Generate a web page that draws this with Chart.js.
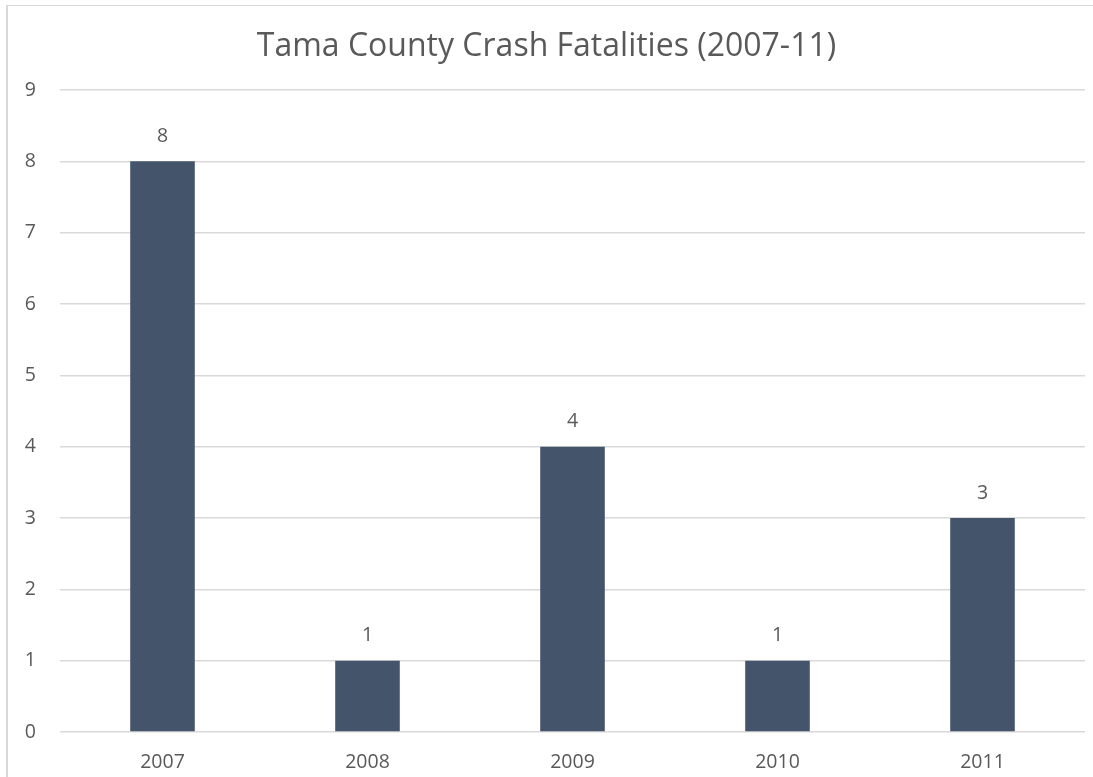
<!DOCTYPE html>
<html>
<head>
<meta charset="utf-8">
<script src="https://cdn.jsdelivr.net/npm/chart.js@4/dist/chart.umd.min.js"></script>
<style>
  html, body { margin: 0; padding: 0; background: #fff; overflow: hidden; }
  #box {
    position: absolute; left: 6px; top: 5px;
    width: 1200px; height: 900px;
    border-left: 2px solid #d9d9d9; border-top: 1px solid #d9d9d9;
  }
  #myChart { position: absolute; left: 0; top: 1px; }
</style>
</head>
<body>
<div id="box"><canvas id="myChart" width="1094" height="770"></canvas></div>
<script>
// chart data
const years = ["2007", "2008", "2009", "2010", "2011"];
const fatalities = [8, 1, 4, 1, 3];
const yMax = 9;

const textColor = "#595959";
const fontName = "'Open Sans', 'Noto Sans', sans-serif";

// draws the value above each bar
const valueLabels = {
  id: "valueLabels",
  afterDatasetsDraw(chart) {
    const ctx = chart.ctx;
    const meta = chart.getDatasetMeta(0);
    ctx.save();
    ctx.fillStyle = textColor;
    ctx.font = "19.5px " + fontName;
    ctx.textAlign = "center";
    ctx.textBaseline = "middle";
    meta.data.forEach((bar, i) => {
      ctx.fillText(String(fatalities[i]), bar.x, bar.y - 25);
    });
    ctx.restore();
  }
};

const ctx = document.getElementById("myChart").getContext("2d");
new Chart(ctx, {
  type: "bar",
  data: {
    labels: years,
    datasets: [{
      label: "Fatalities",
      data: fatalities,
      backgroundColor: "#44546A",
      borderWidth: 0,
      categoryPercentage: 1,
      barPercentage: 0.315
    }]
  },
  options: {
    responsive: false,
    animation: false,
    layout: { padding: { left: 0, right: 17, top: 0, bottom: 0 } },
    plugins: {
      legend: { display: false },
      tooltip: { enabled: false },
      title: {
        display: true,
        text: "Tama County Crash Fatalities (2007-11)",
        color: textColor,
        font: { family: fontName, size: 32, weight: "normal" },
        padding: { top: 21, bottom: 23.6 }
      }
    },
    scales: {
      x: {
        grid: { display: false },
        border: { display: false },
        ticks: { color: textColor, font: { family: fontName, size: 19.5 }, padding: 11 },
        afterFit(scale) { scale.height = 45; }
      },
      y: {
        min: 0,
        max: yMax,
        grid: { color: "#d9d9d9", lineWidth: 1.5, drawTicks: false },
        border: { display: false },
        ticks: { stepSize: 1, color: textColor, font: { family: fontName, size: 19.5 }, padding: 24 },
        afterFit(scale) { scale.width = 52; }
      }
    }
  },
  plugins: [valueLabels]
});
</script>
</body>
</html>
